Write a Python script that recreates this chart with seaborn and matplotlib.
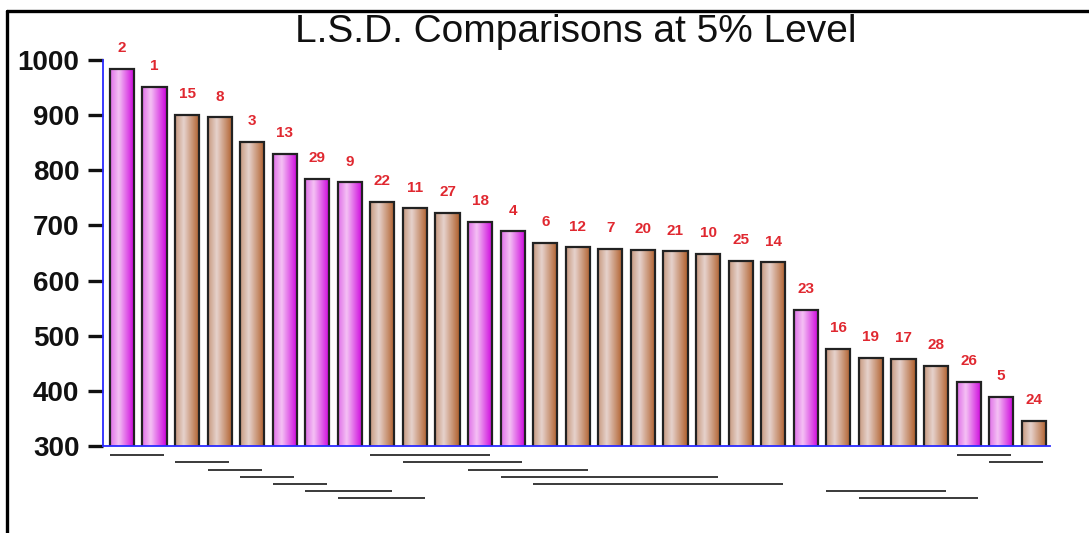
import numpy as np
import pandas as pd
import matplotlib
matplotlib.use("Agg")
import matplotlib.pyplot as plt
from matplotlib.colors import LinearSegmentedColormap
from matplotlib.lines import Line2D
import seaborn as sns

# ---- data ----
treatments = ["2", "1", "15", "8", "3", "13", "29", "9", "22", "11", "27", "18", "4", "6",
              "12", "7", "20", "21", "10", "25", "14", "23", "16", "19", "17", "28", "26", "5", "24"]
means = [984, 951, 900, 896, 851, 829, 784, 778, 742, 731, 722, 707, 689, 669,
         660, 657, 655, 653, 649, 636, 633, 547, 476, 460, 458, 445, 416, 389, 345]
highlight = ["2", "1", "13", "29", "9", "18", "4", "23", "26", "5"]
# LSD non-significance groups: (first bar index, last bar index, row)
lsd_groups = [(0, 1, 1), (8, 11, 1), (26, 27, 1),
              (2, 3, 2), (9, 12, 2), (27, 28, 2),
              (3, 4, 3), (11, 14, 3),
              (4, 5, 4), (12, 18, 4),
              (5, 6, 5), (13, 20, 5),
              (6, 8, 6), (22, 25, 6),
              (7, 9, 7), (23, 26, 7)]
yticks = [300, 400, 500, 600, 700, 800, 900, 1000]

kinds = ["hi" if t in highlight else "lo" for t in treatments]
df = pd.DataFrame({"trt": treatments, "mean": means, "kind": kinds})

sns.set_theme(style="white")
plt.rcParams["font.family"] = ["Liberation Sans", "DejaVu Sans"]

fig = plt.figure(figsize=(10.89, 5.33), dpi=100)
ax = fig.add_axes([103 / 1089, 1 - 446 / 533, (1050 - 103) / 1089, (446 - 60) / 533])

bw = 0.74
sns.barplot(data=df, x="trt", y="mean", hue="kind", order=treatments,
            palette={"hi": "#e060e8", "lo": "#c89070"}, dodge=False, width=bw,
            legend=False, ax=ax, edgecolor="#222222", linewidth=1.6)

ymin, ymax = 300, 1000
cmap_hi = LinearSegmentedColormap.from_list("hi", [(0, "#e070e8"), (0.35, "#f4c0f4"), (1, "#cc00dc")])
cmap_lo = LinearSegmentedColormap.from_list("lo", [(0, "#c89a80"), (0.35, "#e6d2cc"), (1, "#b05e2a")])
grad = np.linspace(0, 1, 64).reshape(1, -1)

for patch in list(ax.patches):
    x0 = patch.get_x()
    w = patch.get_width()
    h = patch.get_height()
    if h <= 0:
        continue
    idx = int(round(x0 + w / 2))
    kind = kinds[idx]
    im = ax.imshow(grad, cmap=cmap_hi if kind == "hi" else cmap_lo, aspect="auto",
                   extent=[x0, x0 + w, ymin, h], zorder=patch.get_zorder() + 0.1,
                   interpolation="bilinear")
    im.set_clip_path(patch)
    patch.set_facecolor("none")
    patch.set_zorder(patch.get_zorder() + 0.2)

ax.set_xlim(-0.58, 28.5)
ax.set_ylim(ymin, ymax)

# treatment numbers above bars
for i, (t, v) in enumerate(zip(treatments, means)):
    ax.annotate(t, xy=(i, v), xytext=(0, 15), textcoords="offset points",
                ha="center", va="center", fontsize=11, fontweight="bold", color="#e02830")

# LSD lines
for s, e, row in lsd_groups:
    yv = 296.5 - 13.1 * row
    ax.plot([s - bw / 2, e + bw / 2 - 0.07], [yv, yv], color="#3a3a3a", lw=1.4,
            clip_on=False, solid_capstyle="butt")

ax.set_yticks(yticks)
ax.set_yticklabels([str(v) for v in yticks], fontsize=20, fontweight="bold", color="#111111")
ax.set_xticks([])
ax.set_xlabel("")
ax.set_ylabel("")
ax.tick_params(axis="y", which="both", left=True, length=11, width=2.4, color="#111111", pad=6)
for side in ["top", "right"]:
    ax.spines[side].set_visible(False)
for side in ["left", "bottom"]:
    ax.spines[side].set_visible(True)
    ax.spines[side].set_color("#2a2aff")
    ax.spines[side].set_linewidth(1.3)
    ax.spines[side].set_zorder(5)
ax.grid(False)

fig.text(576 / 1089, 1 - 42 / 533, "L.S.D. Comparisons at 5% Level", ha="center", va="baseline",
         fontsize=28, color="#101010")

# outer frame (top and left only)
fy = 1 - 11 / 533
fx = 7 / 1089
fig.add_artist(Line2D([fx, 1], [fy, fy], transform=fig.transFigure, color="black", lw=2.4))
fig.add_artist(Line2D([fx, fx], [0, fy], transform=fig.transFigure, color="black", lw=2.4))

fig.savefig("out.png", dpi=100)
